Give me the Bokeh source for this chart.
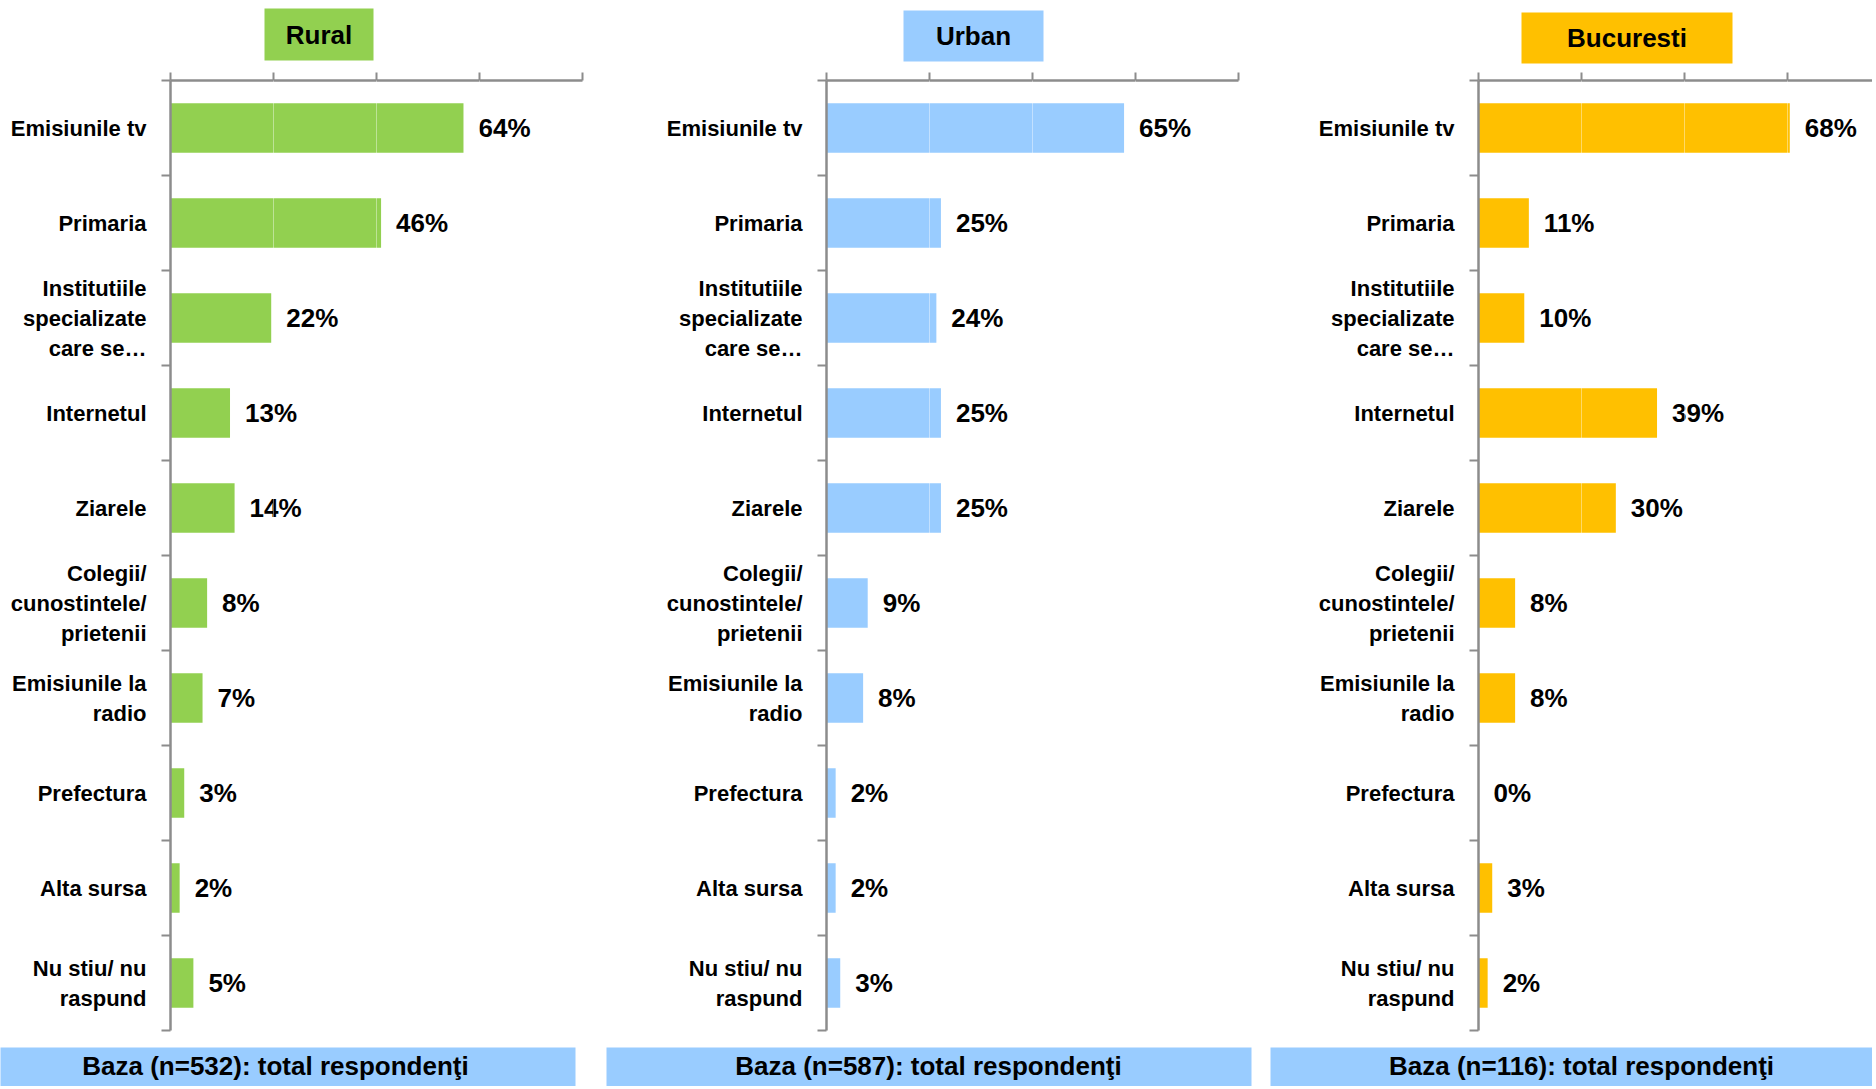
from bokeh.plotting import figure
from bokeh.layouts import row, column
from bokeh.models import Range1d, FixedTicker, ColumnDataSource
from bokeh.core.properties import value
from bokeh.embed import file_html
from bokeh.resources import INLINE

# ---------------- data ----------------
categories = [
    "Emisiunile tv",
    "Primaria",
    "Institutiile\nspecializate\ncare se…",
    "Internetul",
    "Ziarele",
    "Colegii/\ncunostintele/\nprietenii",
    "Emisiunile la\nradio",
    "Prefectura",
    "Alta sursa",
    "Nu stiu/ nu\nraspund",
]
rural = [64, 46, 22, 13, 14, 8, 7, 3, 2, 5]
urban = [65, 25, 24, 25, 25, 9, 8, 2, 2, 3]
bucuresti = [68, 11, 10, 39, 30, 8, 8, 0, 3, 2]
panel_titles = ["Rural", "Urban", "Bucuresti"]
base_texts = [
    "Baza (n=532): total respondenţi",
    "Baza (n=587): total respondenţi",
    "Baza (n=116): total respondenţi",
]
x_ticks = [0, 22.5, 45, 67.5, 90]

# ---------------- layout / style ----------------
FONT = "Liberation Sans"
AXIS_GRAY = "#8C8C8C"
FOOT_BLUE = "#99CCFF"
COLORS = ["#92D050", "#99CCFF", "#FFC000"]
PAGE_LEFT, PAGE_RIGHT = 0, 1872
HEAD_TOP, HEAD_BOTTOM = 0, 64          # header strip (page px)
CHART_BOTTOM = 1040                    # chart strip bottom (page px)
FOOT_BOTTOM = 1086                     # footer strip bottom (page px)
FRAME_H = 958
N = len(categories)
PX = 412 / 90.0  # pixels per percent

panels = [
    dict(vals=rural, fig_left=0, width=590, bl=170, br=8, top=72, x_end=90),
    dict(vals=urban, fig_left=590, width=670, bl=236, br=22, top=80, x_end=90),
    dict(vals=bucuresti, fig_left=1260, width=612, bl=218, br=0, top=74, x_end=394 / PX),
]
# header boxes: left, right, top, bottom (page px)
head_boxes = [(264, 373, 8, 60), (903, 1043, 10, 61), (1521, 1732, 12, 63)]
# footer boxes: left, right, top (page px); text centre x
foot_boxes = [(-10, 575, 1047, 275), (606, 1251, 1047, 928), (1270, 1892, 1047, 1581)]
FOOT_TEXT_Y = 1065


def strip(y0, y1):
    f = figure(width=PAGE_RIGHT - PAGE_LEFT, height=y1 - y0,
               x_range=Range1d(PAGE_LEFT, PAGE_RIGHT), y_range=Range1d(y1, y0),
               x_axis_type=None, y_axis_type=None,
               output_backend="svg", toolbar_location=None,
               min_border=0, min_border_left=0, min_border_right=0,
               min_border_top=0, min_border_bottom=0,
               outline_line_color=None, background_fill_color="white",
               border_fill_color="white")
    f.grid.visible = False
    return f


# header strip
head = strip(HEAD_TOP, HEAD_BOTTOM)
head.quad(left=[b[0] for b in head_boxes], right=[b[1] for b in head_boxes],
          top=[b[2] for b in head_boxes], bottom=[b[3] for b in head_boxes],
          fill_color=COLORS, line_color=None)
head.text(x=[(b[0] + b[1]) / 2 for b in head_boxes], y=[(b[2] + b[3]) / 2 for b in head_boxes],
          text=panel_titles, text_align="center", text_baseline="middle",
          text_font=value(FONT), text_font_style="bold", text_font_size="26px",
          text_color="black")

# footer strip
foot = strip(CHART_BOTTOM, FOOT_BOTTOM)
foot.quad(left=[b[0] for b in foot_boxes], right=[b[1] for b in foot_boxes],
          top=[b[2] for b in foot_boxes], bottom=[FOOT_BOTTOM + 20] * 3,
          fill_color=FOOT_BLUE, line_color=None)
foot.text(x=[b[3] for b in foot_boxes], y=[FOOT_TEXT_Y] * 3, text=base_texts,
          text_align="center", text_baseline="middle",
          text_font=value(FONT), text_font_style="bold", text_font_size="26px",
          text_color="black")

figs = []
for k, sp in enumerate(panels):
    bt = sp["top"] - HEAD_BOTTOM
    bb = CHART_BOTTOM - sp["top"] - FRAME_H
    p = figure(
        width=sp["width"], height=CHART_BOTTOM - HEAD_BOTTOM,
        x_range=Range1d(0, sp["x_end"]), y_range=Range1d(N - 0.5, -0.5),
        x_axis_location="above",
        output_backend="svg", toolbar_location=None,
        min_border_left=sp["bl"], min_border_right=sp["br"],
        min_border_top=bt, min_border_bottom=bb,
        outline_line_color=None, background_fill_color="white", border_fill_color="white",
    )
    # top axis
    xa = p.xaxis[0]
    xa.ticker = FixedTicker(ticks=x_ticks)
    xa.major_label_text_color = None
    xa.major_label_text_font_size = "1px"
    xa.major_label_standoff = 0
    xa.major_tick_out = 8
    xa.major_tick_in = 0
    xa.minor_tick_out = 0
    xa.minor_tick_in = 0
    xa.axis_line_color = AXIS_GRAY
    xa.axis_line_width = 2.5
    xa.major_tick_line_color = AXIS_GRAY
    xa.major_tick_line_width = 2

    # left axis with category labels
    ya = p.yaxis[0]
    ya.ticker = FixedTicker(ticks=list(range(N)), minor_ticks=[i - 0.5 for i in range(N + 1)])
    ya.major_label_overrides = {i: c for i, c in enumerate(categories)}
    ya.major_tick_out = 0
    ya.major_tick_in = 0
    ya.minor_tick_out = 9
    ya.minor_tick_in = 0
    ya.minor_tick_line_color = AXIS_GRAY
    ya.minor_tick_line_width = 2
    ya.axis_line_color = AXIS_GRAY
    ya.axis_line_width = 2.5
    ya.major_label_text_font = FONT
    ya.major_label_text_font_style = "bold"
    ya.major_label_text_font_size = "22px"
    ya.major_label_text_color = "black"
    ya.major_label_text_align = "center"
    ya.major_label_standoff = 15

    p.ygrid.visible = False
    p.xgrid.ticker = FixedTicker(ticks=x_ticks)
    p.xgrid.grid_line_color = "white"
    p.xgrid.grid_line_alpha = 0.4
    p.xgrid.grid_line_width = 1
    p.xgrid.level = "annotation"

    src = ColumnDataSource(dict(
        y=list(range(N)), v=sp["vals"], lab=[f"{v}%" for v in sp["vals"]]
    ))
    p.hbar(y="y", left=0, right="v", height=0.52, source=src,
           fill_color=COLORS[k], line_color=None)
    p.text(x="v", y="y", text="lab", source=src, x_offset=15,
           text_align="left", text_baseline="middle",
           text_font=value(FONT), text_font_style="bold",
           text_font_size="26px", text_color="black")
    figs.append(p)

layout = column(head, row(*figs, spacing=0), foot, spacing=0)
open("out.html", "w").write(file_html(layout, INLINE))
